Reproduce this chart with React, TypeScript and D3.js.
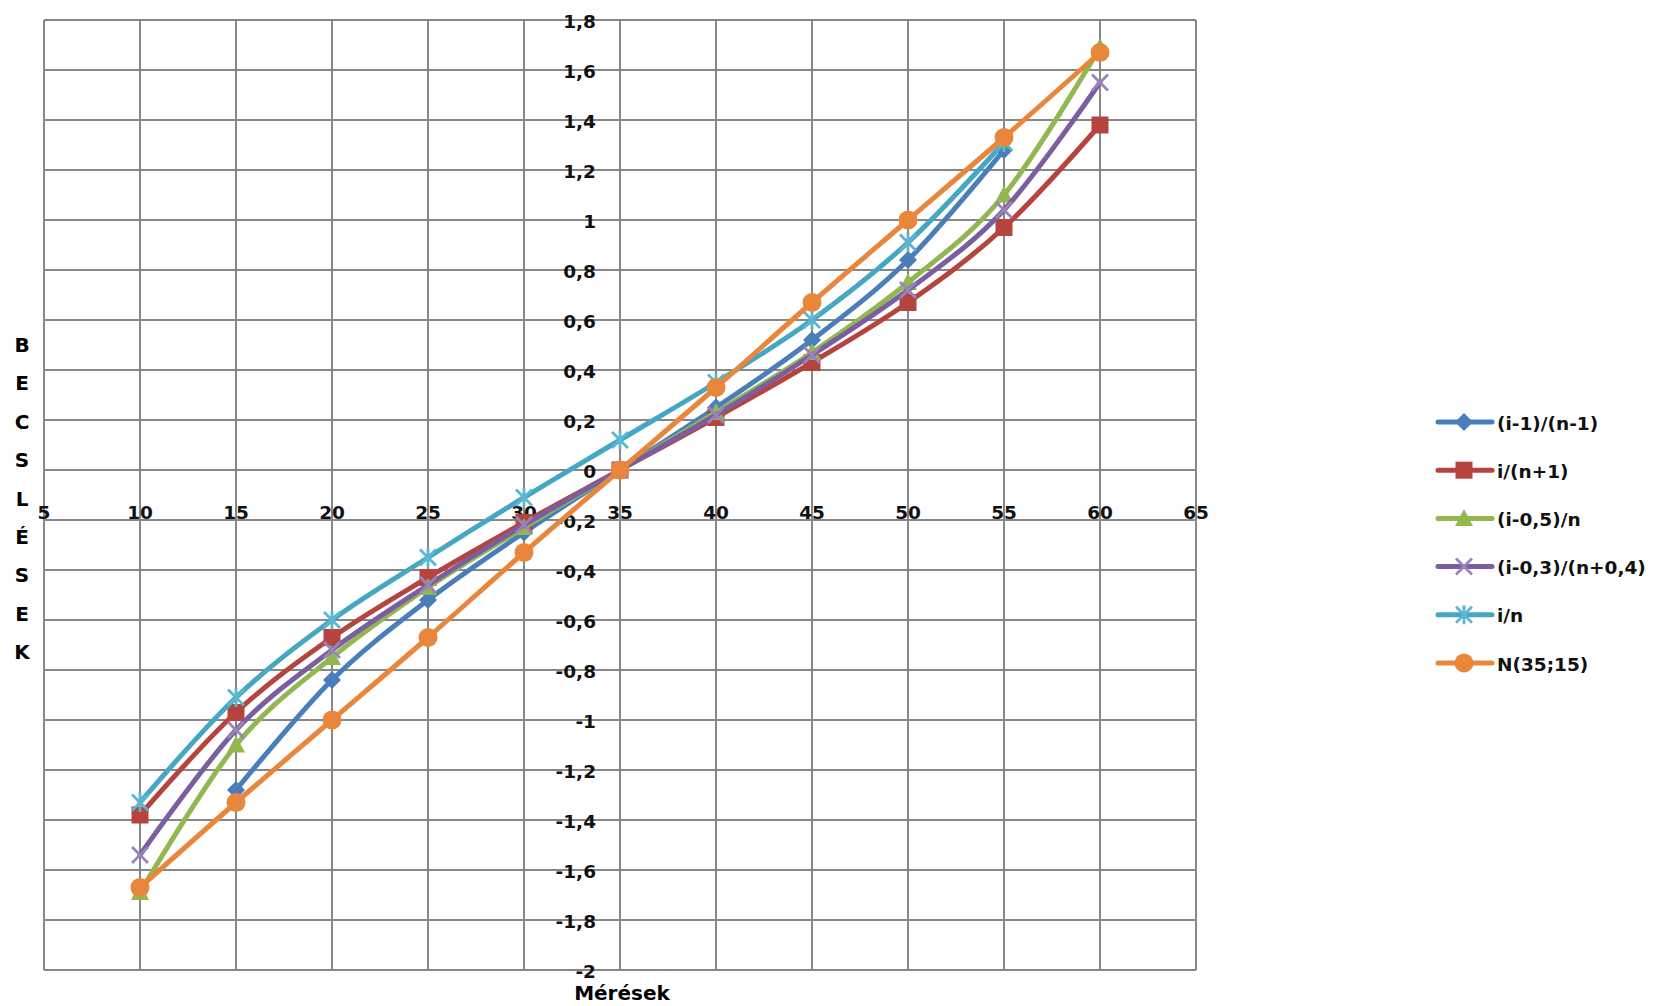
import React from "react";
import * as d3 from "d3";

const xValues = [10, 15, 20, 25, 30, 35, 40, 45, 50, 55, 60];

const seriesNames = ["(i-1)/(n-1)", "i/(n+1)", "(i-0,5)/n", "(i-0,3)/(n+0,4)", "i/n", "N(35;15)"];

const s1: (number | null)[] = [null, -1.28, -0.84, -0.52, -0.25, 0, 0.25, 0.52, 0.84, 1.28, null];
const s2: (number | null)[] = [-1.38, -0.97, -0.67, -0.43, -0.21, 0, 0.21, 0.43, 0.67, 0.97, 1.38];
const s3: (number | null)[] = [-1.69, -1.1, -0.75, -0.47, -0.23, 0, 0.23, 0.47, 0.75, 1.1, 1.69];
const s4: (number | null)[] = [-1.54, -1.04, -0.72, -0.46, -0.22, 0, 0.22, 0.46, 0.72, 1.04, 1.55];
const s5: (number | null)[] = [-1.33, -0.91, -0.6, -0.35, -0.11, 0.12, 0.35, 0.6, 0.91, 1.31, null];
const s6: (number | null)[] = [-1.67, -1.33, -1.0, -0.67, -0.33, 0, 0.33, 0.67, 1.0, 1.33, 1.67];

const seriesValues = [s1, s2, s3, s4, s5, s6];
const seriesColors = ["#4a7ebb", "#b5443f", "#92b650", "#7b5ea0", "#45a7c2", "#e8873c"];
const markerColors = ["#4a7ebb", "#b5443f", "#92b650", "#9a84bd", "#5cb6d0", "#e8873c"];
const markerTypes = ["diamond", "square", "triangle", "x", "star", "circle"];

const xTicks = [5, 10, 15, 20, 25, 30, 35, 40, 45, 50, 55, 60, 65];
const yTicks = [1.8, 1.6, 1.4, 1.2, 1, 0.8, 0.6, 0.4, 0.2, 0, -0.2, -0.4, -0.6, -0.8, -1, -1.2, -1.4, -1.6, -1.8, -2];

const xTitle = "Mérések";
const yTitle = "BECSLÉSEK";

const W = 1657;
const H = 1006;
const FONT = "'DejaVu Sans', sans-serif";

function Marker({ type, cx, cy, color }: { type: string; cx: number; cy: number; color: string }) {
  switch (type) {
    case "diamond":
      return <path d={`M${cx},${cy - 9}L${cx + 9},${cy}L${cx},${cy + 9}L${cx - 9},${cy}Z`} fill={color} />;
    case "square":
      return <rect x={cx - 8.5} y={cy - 8.5} width={17} height={17} fill={color} />;
    case "triangle":
      return <path d={`M${cx},${cy - 9.5}L${cx + 9},${cy + 7.5}L${cx - 9},${cy + 7.5}Z`} fill={color} />;
    case "x":
      return (
        <path
          d={`M${cx - 8},${cy - 8}L${cx + 8},${cy + 8}M${cx - 8},${cy + 8}L${cx + 8},${cy - 8}`}
          stroke={color}
          strokeWidth={2.8}
          fill="none"
        />
      );
    case "star":
      return (
        <path
          d={`M${cx - 8},${cy - 8}L${cx + 8},${cy + 8}M${cx - 8},${cy + 8}L${cx + 8},${cy - 8}M${cx},${cy - 9.5}L${cx},${cy + 9.5}`}
          stroke={color}
          strokeWidth={2.8}
          fill="none"
        />
      );
    default:
      return <circle cx={cx} cy={cy} r={9.5} fill={color} />;
  }
}

export default function App() {
  const x = d3.scaleLinear().domain([5, 65]).range([44, 1196]);
  const y = d3.scaleLinear().domain([-2, 1.8]).range([970, 20]);
  const fmt = (v: number) => String(Math.round(v * 10) / 10).replace(".", ",");

  const line = d3
    .line<[number, number]>()
    .x((d) => x(d[0]))
    .y((d) => y(d[1]))
    .curve(d3.curveCatmullRom.alpha(0));

  const legendY0 = 422;
  const legendStep = 48.2;

  return (
    <svg
      width={W}
      height={H}
      style={{ position: "absolute", left: 0, top: 0, background: "#fff" }}
      fontFamily={FONT}
    >
      <rect x={0} y={0} width={W} height={H} fill="#fff" />
      {/* grid */}
      <g stroke="#878787" strokeWidth={2}>
        {yTicks.map((t) => (
          <line key={"h" + t} x1={x(5)} x2={x(65)} y1={y(t)} y2={y(t)} />
        ))}
        {xTicks.map((t) => (
          <line key={"v" + t} x1={x(t)} x2={x(t)} y1={y(1.8)} y2={y(-2)} />
        ))}
      </g>
      {/* y tick labels */}
      <g fontSize={18.5} fontWeight="bold" fill="#111" textAnchor="end">
        {yTicks.map((t) => (
          <text key={"yl" + t} x={x(35) - 24} y={y(t) + 1} dominantBaseline="central">
            {fmt(t)}
          </text>
        ))}
      </g>
      {/* x tick labels */}
      <g fontSize={18.5} fontWeight="bold" fill="#111" textAnchor="middle">
        {xTicks.map((t) => (
          <text key={"xl" + t} x={x(t)} y={y(-0.2) - 1}>
            {fmt(t)}
          </text>
        ))}
      </g>
      {/* series */}
      {seriesValues.map((vals, si) => {
        const pts: [number, number][] = [];
        vals.forEach((v, i) => {
          if (v !== null) pts.push([xValues[i], v]);
        });
        return (
          <g key={"s" + si}>
            <path d={line(pts) || ""} fill="none" stroke={seriesColors[si]} strokeWidth={5} strokeLinejoin="round" strokeLinecap="round" />
            {pts.map((p, i) => (
              <Marker key={i} type={markerTypes[si]} cx={x(p[0])} cy={y(p[1])} color={markerColors[si]} />
            ))}
          </g>
        );
      })}
      {/* axis titles */}
      <text x={x(35) + 2} y={1000} textAnchor="middle" fontSize={20} fontWeight="bold" fill="#000">
        {xTitle}
      </text>
      <g fontSize={20} fontWeight="bold" fill="#000" textAnchor="middle">
        {yTitle.split("").map((ch, i) => (
          <text key={"yt" + i} x={22} y={345 + i * 38.4} dominantBaseline="central">
            {ch}
          </text>
        ))}
      </g>
      {/* legend */}
      <g>
        {seriesNames.map((name, si) => {
          const ly = legendY0 + si * legendStep;
          return (
            <g key={"lg" + si}>
              <line x1={1438} x2={1492} y1={ly} y2={ly} stroke={seriesColors[si]} strokeWidth={5} strokeLinecap="round" />
              <Marker type={markerTypes[si]} cx={1464} cy={ly} color={markerColors[si]} />
              <text x={1497} y={ly + 1} fontSize={18.5} fontWeight="bold" dominantBaseline="central" fill="#111">
                {name}
              </text>
            </g>
          );
        })}
      </g>
    </svg>
  );
}
